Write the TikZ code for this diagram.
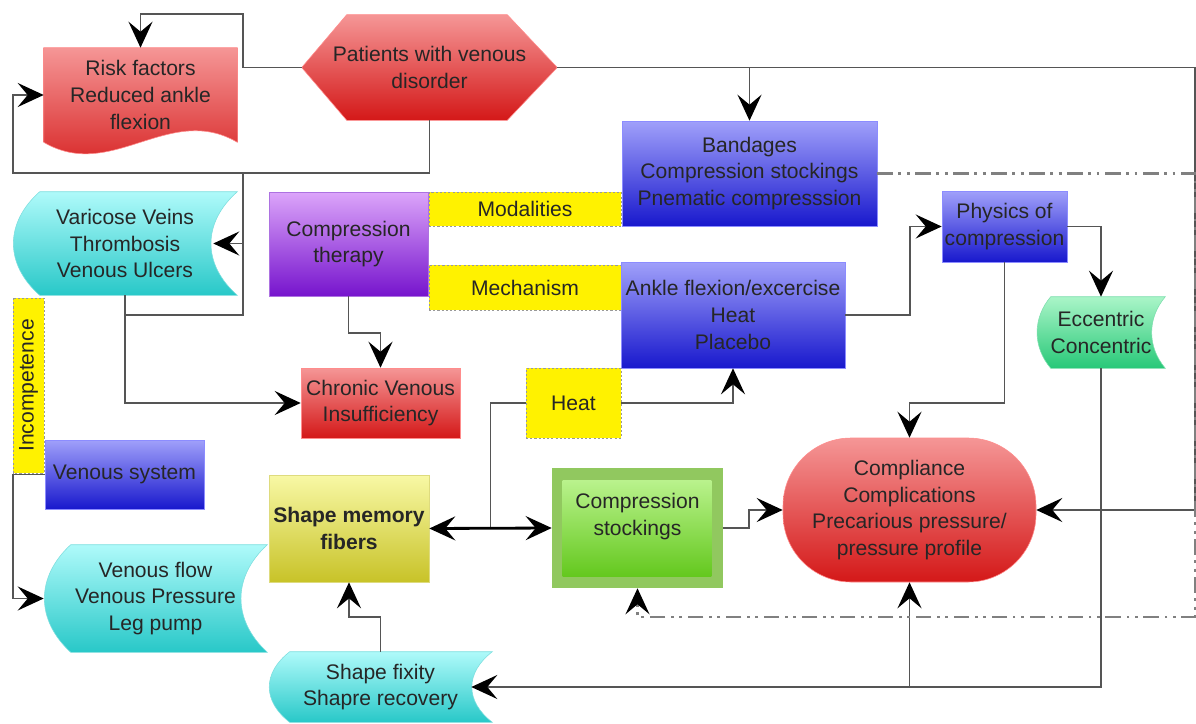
\documentclass[tikz,border=0pt]{standalone}
\usepackage{fontspec}
\setmainfont{Liberation Sans}
\usetikzlibrary{arrows.meta,calc,backgrounds}

\definecolor{redtop}{RGB}{245,150,150}
\definecolor{redbot}{RGB}{212,24,24}
\definecolor{blutop}{RGB}{160,160,250}
\definecolor{blubot}{RGB}{24,24,205}
\definecolor{purtop}{RGB}{220,165,250}
\definecolor{purbot}{RGB}{118,20,205}
\definecolor{cyatop}{RGB}{175,250,250}
\definecolor{cyabot}{RGB}{40,200,200}
\definecolor{grntop}{RGB}{170,245,200}
\definecolor{grnbot}{RGB}{40,200,120}
\definecolor{olitop}{RGB}{248,248,165}
\definecolor{olibot}{RGB}{200,195,40}
\definecolor{stkout}{RGB}{145,200,95}
\definecolor{stktop}{RGB}{185,242,140}
\definecolor{stkbot}{RGB}{100,200,30}
\definecolor{lineg}{RGB}{85,85,85}

\tikzset{
    sz/.style 2 args={minimum width=#1*0.025cm, minimum height=#2*0.025cm},
    link/.style={draw=lineg, line width=1.4pt},
    conn/.style={link, -{Stealth[length=6.5mm,width=6mm,inset=2.5mm,color=black]}},
    both/.style={draw=black, line width=2pt, {Stealth[length=6.5mm,width=6mm,inset=2.5mm]}-{Stealth[length=6.5mm,width=6mm,inset=2.5mm]}},
    dashdot/.style={draw=black!50, line width=1.6pt, dash pattern=on 11pt off 4pt on 2pt off 4pt on 2pt off 4pt},
    tag/.style={fill=yellow, draw=black!40, dash pattern=on 1.5pt off 1.5pt},
    redbox/.style={top color=redtop, bottom color=redbot, draw=red!45},
    bluebox/.style={top color=blutop, bottom color=blubot, draw=blue!45},
    purplebox/.style={top color=purtop, bottom color=purbot, draw=purbot!60},
    cyanbox/.style={top color=cyatop, bottom color=cyabot, draw=cyabot!60},
    greenbox/.style={top color=grntop, bottom color=grnbot, draw=grnbot!60},
    olivebox/.style={top color=olitop, bottom color=olibot, draw=olibot!60}
}

\newcommand\datashape[3]{%
  \shadedraw[#3] ($(#1.north west)+(#2,0)$) -- (#1.north east)
    .. controls ($(#1.north east)!.3!(#1.south east)+(-1.3*#2,0)$) and ($(#1.south east)!.3!(#1.north east)+(-1.3*#2,0)$) .. (#1.south east)
    -- ($(#1.south west)+(#2,0)$)
    .. controls ($(#1.south west)!.3!(#1.north west)+(-0.3*#2,0)$) and ($(#1.north west)!.3!(#1.south west)+(-0.3*#2,0)$) .. ($(#1.north west)+(#2,0)$) -- cycle;}

\begin{document}
\begin{tikzpicture}[x=0.025cm, y=-0.025cm,
    every node/.style={font=\fontsize{15}{19}\selectfont, align=center, inner sep=0pt, text=black!85}]

    \useasboundingbox (0,0) rectangle (1196,723);

    \node[sz={193}{94}] (risk) at (140.5,95) {Risk factors\\Reduced ankle\\flexion};
    \node[sz={255}{105}] (pat) at (429.5,67.5) {Patients with venous\\disorder};
    \node[sz={224}{103}] (vari) at (125,243.5) {Varicose Veins\\Thrombosis\\Venous Ulcers};
    \node[purplebox, sz={159}{104}] (ther) at (348.5,244) {Compression\\therapy};
    \node[tag, sz={192}{34}] (moda) at (525,209) {Modalities};
    \node[tag, sz={192}{45}] (mech) at (525,287.5) {Mechanism};
    \node[bluebox, sz={255}{105}] (band) at (749.5,173.5) {Bandages\\Compression stockings\\Pnematic compresssion};
    \node[bluebox, sz={125}{71}] (phys) at (1004.5,226.5) {Physics of\\compression};
    \node[bluebox, sz={224}{106}] (ankle) at (733,315) {Ankle flexion/excercise\\Heat\\Placebo};
    \node[sz={128}{71}] (ecc) at (1101,332.5) {Eccentric\\Concentric};

    \node[redbox, sz={159}{70}] (cvi) at (380.5,403) {Chronic Venous\\Insufficiency};
    \node[tag, sz={95}{70}] (heat) at (573.5,403) {Heat};
    \node[tag, sz={175}{31}, rotate=90] (inc) at (28.5,385.5) {Incompetence};
    \node[bluebox, sz={159}{69}] (vsys) at (124.5,474.5) {Venous system};
    \node[olivebox, sz={160}{107}, font=\fontsize{15}{19}\selectfont\bfseries] (smf) at (349,528.5) {Shape memory\\fibers};
    \node[sz={171}{120}] (stock) at (637.5,528) {Compression\\stockings\\\mbox{}};
    \node[redbox, sz={253}{144}, rounded corners=1.7cm] (comp) at (909.5,510) {Compliance\\Complications\\Precarious pressure/\\pressure profile};
    \node[sz={223}{107}] (vflow) at (155.5,598.5) {Venous flow\\Venous Pressure\\Leg pump};
    \node[sz={223}{70}] (sfix) at (380.5,687) {Shape fixity\\Shapre recovery};

    \begin{scope}[on background layer]
        \shadedraw[redbox] (risk.north west) -- (risk.north east) -- (risk.south east)
            .. controls ($(risk.south east)+(-68,-40)$) and ($(risk.south west)+(68,40)$) .. (risk.south west) -- cycle;
        \shadedraw[redbox] (pat.west) -- ($(pat.north west)+(45,0)$) -- ($(pat.north east)+(-50,0)$) -- (pat.east)
            -- ($(pat.south east)+(-50,0)$) -- ($(pat.south west)+(45,0)$) -- cycle;
        \datashape{vari}{27}{cyanbox}
        \datashape{vflow}{27}{cyanbox}
        \datashape{sfix}{21}{cyanbox}
        \datashape{ecc}{14}{greenbox}
        \fill[stkout] (stock.north west) rectangle (stock.south east);
        \shade[top color=stktop, bottom color=stkbot] ($(stock.north west)+(11,13)$) rectangle ($(stock.south east)+(-12,-12)$);
    \end{scope}

    \coordinate (jtop) at (243,173);
    \coordinate (jbot) at (243,315);
    \coordinate (jright) at (1195,510);
    \coordinate (jheat) at ($(smf.east)!.5!(stock.west)$);

    \draw[conn] (pat.west) -| (243,14) -| (risk.north);
    \draw[conn] (pat.south) |- (13,173) |- (risk.west);
    \draw[link] (jtop) -- (jbot) -| (vari.south);
    \draw[conn] ($(vari.east)+(6,0)$) -- ($(vari.east)+(-24,0)$);
    \draw[conn] (vari.south) |- (cvi.west);
    \draw[conn] (ther.south) -- ++(0,37) -| (cvi.north);
    \draw[conn] (pat.east) -| (jright) -- (comp.east);
    \draw[conn] (pat.east -| band.north) -- (band.north);
    \draw[conn] (ankle.east) -- ++(65,0) |- (phys.west);
    \draw[conn] (phys.east) -| (ecc.north);
    \draw[conn] (phys.south) -- ++(0,141) -| (comp.north);
    \draw[conn] (ecc.south) |- ($(sfix.east)+(-21,0)$);
    \draw[conn] (comp.south |- sfix.east) -- (comp.south);
    \draw[conn] (heat.east) -| (ankle.south);
    \draw[link] (heat.west) -| (jheat);
    \draw[both] (smf.east) -- (stock.west);
    \draw[conn] (stock.east) -- ++(26,0) |- (comp.west);
    \draw[dashdot, -{Stealth[length=6.5mm,width=6mm,inset=2.5mm,color=black]}] (band.east) -| (1195,617) -| (stock.south);
    \draw[conn] (sfix.north) -- ++(0,-35) -| (smf.south);
    \draw[conn] (vsys.west) -- (13,474.5) |- (vflow.west);
\end{tikzpicture}
\end{document}
